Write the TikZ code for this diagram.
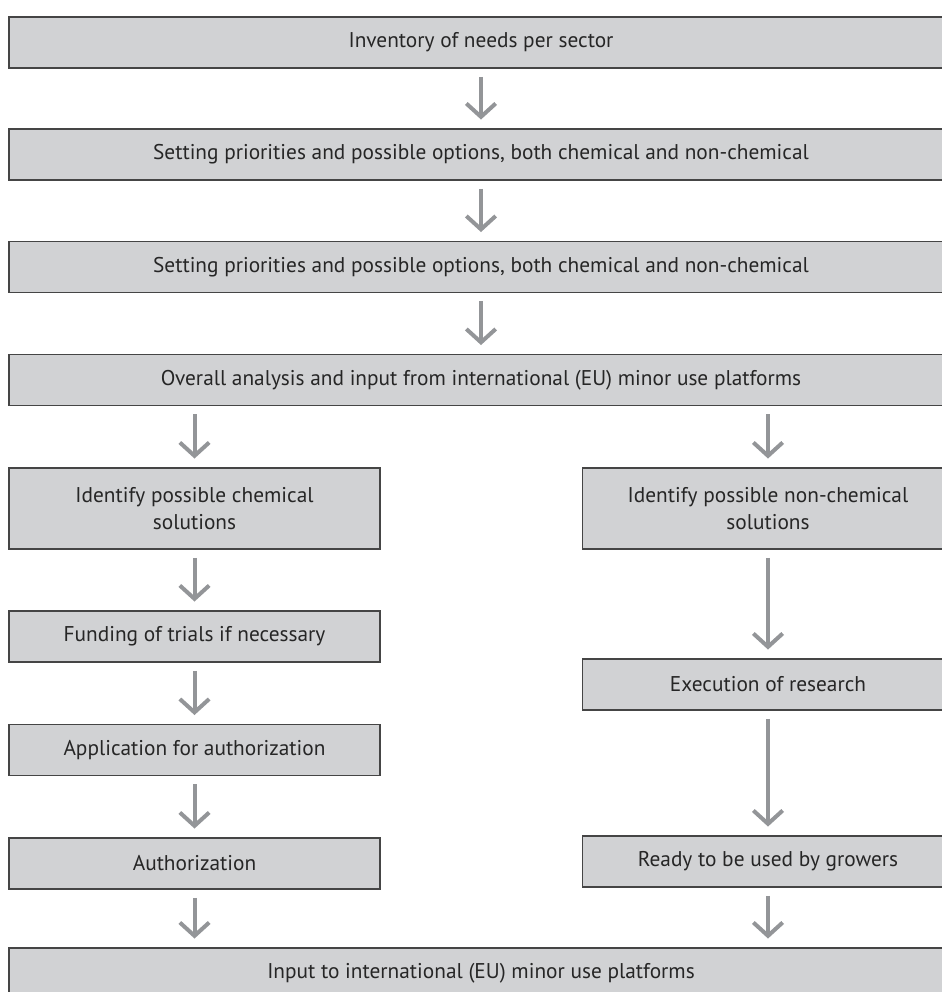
\documentclass[tikz,border=0pt]{standalone}
\usepackage{fontspec}
\setmainfont{PT Sans}
\usetikzlibrary{arrows.meta}
\definecolor{boxfill}{HTML}{D1D2D4}
\definecolor{boxline}{HTML}{454545}
\definecolor{arrowgray}{HTML}{939598}
\definecolor{txtgray}{HTML}{262626}
\tikzset{
  stepbox/.style = {rectangle, draw=boxline, fill=boxfill, line width=1.2pt,
                    align=center, text=txtgray, font=\fontsize{16}{20}\selectfont,
                    inner sep=0pt, minimum height=38.25pt},
  widebox/.style = {stepbox, minimum width=708pt},
  colbox/.style  = {stepbox, minimum width=278pt},
  down/.style    = {-{Straight Barb[length=10pt, width=22pt, line width=3pt]},
                    line width=3pt, draw=arrowgray, shorten <=6pt, shorten >=6.5pt},
}

\begin{document}
\begin{tikzpicture}[x=0.75pt, y=-0.75pt]
  \path[use as bounding box, clip] (0,0) rectangle (942,992);
  % main column
  \node[widebox] (inv)  at (481,42.5)  {Inventory of needs per sector};
  \node[widebox] (prio) at (481,154.5) {Setting priorities and possible options, both chemical and non-chemical};
  \node[widebox] (prib) at (481,267)   {Setting priorities and possible options, both chemical and non-chemical};
  \node[widebox] (anal) at (481,380)   {Overall analysis and input from international (EU) minor use platforms};
  % chemical route
  \node[colbox, minimum height=60.75pt] (chem) at (194.5,508.5) {Identify possible chemical\\solutions};
  \node[colbox] (fund) at (194.5,636.5) {Funding of trials if necessary};
  \node[colbox] (appl) at (194.5,750)   {Application for authorization};
  \node[colbox] (auth) at (194.5,863.5) {Authorization};
  % non-chemical route
  \node[colbox, minimum height=60.75pt] (nonc) at (768,508.5) {Identify possible non-chemical\\solutions};
  \node[colbox] (exec) at (768,684.5) {Execution of research};
  \node[colbox] (redy) at (768,861.5) {Ready to be used by growers};
  \node[widebox] (inpt) at (481,973.5) {Input to international (EU) minor use platforms};

  \foreach \a/\b in {inv/prio, prio/prib, prib/anal, chem/fund, fund/appl, appl/auth, nonc/exec, exec/redy}
    {\draw[down] (\a) -- (\b);}
  \draw[down] (anal.south -| chem) -- (chem);
  \draw[down] (anal.south -| nonc) -- (nonc);
  \draw[down] (auth) -- (auth |- inpt.north);
  \draw[down] (redy) -- (redy |- inpt.north);
\end{tikzpicture}
\end{document}
